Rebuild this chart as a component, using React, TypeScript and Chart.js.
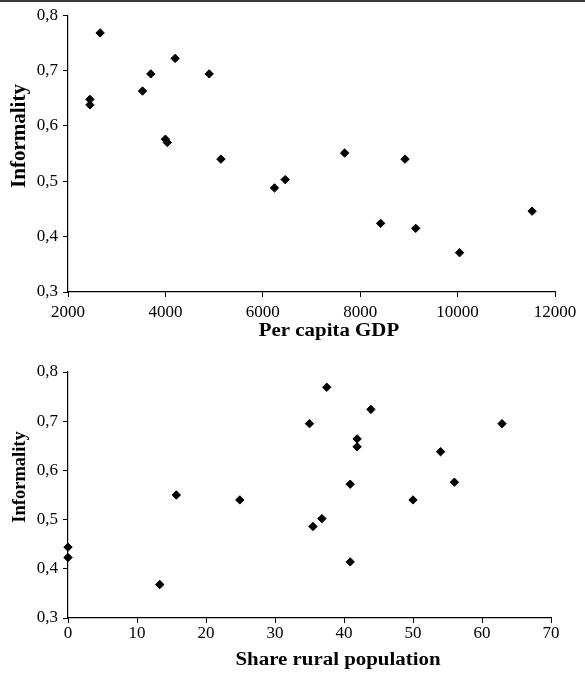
import React, { useEffect, useRef } from 'react';
import { Chart, registerables } from 'chart.js';

Chart.register(...registerables);

// ---- Data ----
const gdpPerCapita = [2450, 2450, 2660, 3530, 3700, 4200, 4900, 4000, 4040, 5140, 6240, 6460, 7680, 8920, 8420, 9140, 10040, 11530];
const informalityByGdp = [0.638, 0.648, 0.768, 0.663, 0.694, 0.722, 0.694, 0.576, 0.570, 0.540, 0.488, 0.503, 0.551, 0.540, 0.424, 0.415, 0.371, 0.446];

const ruralShare = [0, 0, 13.3, 15.7, 24.9, 37.5, 43.9, 35.0, 62.9, 41.9, 41.9, 54.0, 40.9, 56.0, 50.0, 36.8, 35.5, 40.9];
const informalityByRural = [0.444, 0.423, 0.368, 0.550, 0.540, 0.769, 0.724, 0.695, 0.695, 0.664, 0.648, 0.638, 0.572, 0.576, 0.540, 0.502, 0.486, 0.414];

const gdpAxis = [2000, 12000, 2000]; // min, max, step
const ruralAxis = [0, 70, 10];
const informalityAxis = [0.3, 0.8, 0.1];

const yTitle = 'Informality';
const xTitleGdp = 'Per capita GDP';
const xTitleRural = 'Share rural population';

const SERIF = '"Liberation Serif", "Times New Roman", serif';

const titlePlugin = {
  id: 'axisTitles',
  afterDraw(chart: any, _args: any, opts: any) {
    const ctx = chart.ctx;
    ctx.save();
    ctx.fillStyle = '#000';
    ctx.font = `bold ${opts.xSize}px ${SERIF}`;
    ctx.textAlign = 'center';
    ctx.textBaseline = 'alphabetic';
    ctx.translate(opts.xCenter, opts.xBaseline);
    ctx.scale(opts.xStretch, 1);
    ctx.fillText(opts.xText, 0, 0);
    ctx.restore();

    ctx.save();
    ctx.fillStyle = '#000';
    ctx.font = `bold ${opts.ySize}px ${SERIF}`;
    ctx.textAlign = 'center';
    ctx.textBaseline = 'alphabetic';
    ctx.translate(opts.yBaseline, opts.yCenter);
    ctx.rotate(-Math.PI / 2);
    ctx.fillText(opts.yText, 0, 0);
    ctx.restore();
  },
};

function makeConfig(xs: number[], ys: number[], xAxis: number[], p: any) {
  const data = xs.map((x, i) => ({ x, y: ys[i] }));
  return {
    type: 'scatter',
    data: {
      datasets: [
        {
          data,
          pointStyle: 'rectRot',
          radius: 4.2,
          backgroundColor: '#000',
          borderColor: '#000',
          borderWidth: 1,
          clip: false,
        },
      ],
    },
    plugins: [titlePlugin],
    options: {
      animation: false,
      responsive: false,
      events: [],
      layout: { padding: { top: p.top, right: p.right, left: 0, bottom: 0 } },
      plugins: {
        legend: { display: false },
        tooltip: { enabled: false },
        axisTitles: p.titles,
      },
      scales: {
        x: {
          type: 'linear',
          min: xAxis[0],
          max: xAxis[1],
          afterFit: (s: any) => { s.height = p.xHeight; },
          ticks: {
            stepSize: xAxis[2],
            color: '#000',
            padding: p.xPad,
            maxRotation: 0,
            font: { family: SERIF, size: 17 },
            callback: (v: any) => String(v),
          },
          grid: { display: true, drawOnChartArea: false, drawTicks: true, tickLength: 5, color: '#000', lineWidth: 1 },
          border: { display: true, color: '#000', width: 1.2 },
        },
        y: {
          type: 'linear',
          min: informalityAxis[0],
          max: informalityAxis[1],
          afterFit: (s: any) => { s.width = 68; },
          ticks: {
            stepSize: informalityAxis[2],
            color: '#000',
            padding: 5,
            font: { family: SERIF, size: 17 },
            callback: (v: any) => Number(v).toFixed(1).replace('.', ','),
          },
          grid: { display: true, drawOnChartArea: false, drawTicks: true, tickLength: 5, color: '#000', lineWidth: 1 },
          border: { display: true, color: '#000', width: 1.2 },
        },
      },
    },
  };
}

function ScatterPanel({ cfg }: { cfg: any }) {
  const ref = useRef<HTMLCanvasElement>(null);
  useEffect(() => {
    if (!ref.current) return;
    const chart = new Chart(ref.current, cfg);
    return () => chart.destroy();
  }, [cfg]);
  return <canvas ref={ref} width={585} height={340} style={{ display: 'block', width: 585, height: 340 }} />;
}

const cfgTop = makeConfig(gdpPerCapita, informalityByGdp, gdpAxis, {
  top: 14,
  right: 30,
  xHeight: 48,
  xPad: 5,
  titles: { xText: xTitleGdp, xSize: 18, xStretch: 1.16, xCenter: 329, xBaseline: 336, yText: yTitle, ySize: 21, yBaseline: 25, yCenter: 136 },
});

const cfgBottom = makeConfig(ruralShare, informalityByRural, ruralAxis, {
  top: 32,
  right: 34,
  xHeight: 62,
  xPad: 0,
  titles: { xText: xTitleRural, xSize: 18, xStretch: 1.16, xCenter: 338, xBaseline: 325, yText: yTitle, ySize: 18.5, yBaseline: 25, yCenter: 137 },
});

export default function App() {
  return (
    <div style={{ position: 'absolute', left: 0, top: 0, width: 585, height: 680, background: '#fff' }}>
      <div style={{ position: 'absolute', left: 0, top: 0, width: 585, height: 2, background: '#3a3a3a' }} />
      <ScatterPanel cfg={cfgTop} />
      <ScatterPanel cfg={cfgBottom} />
    </div>
  );
}
